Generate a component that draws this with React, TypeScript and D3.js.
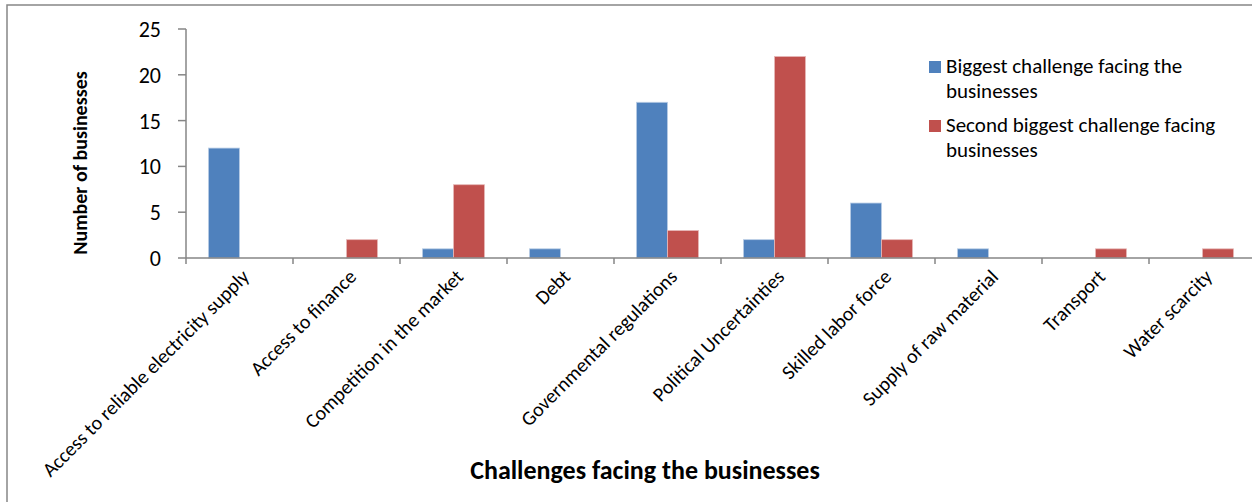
import React from "react";
import * as d3 from "d3";

const categories = [
  "Access to reliable electricity supply",
  "Access to finance",
  "Competition in the market",
  "Debt",
  "Governmental regulations",
  "Political Uncertainties",
  "Skilled labor force",
  "Supply of raw material",
  "Transport",
  "Water scarcity",
];
const biggest = [12, 0, 1, 1, 17, 2, 6, 1, 0, 0];
const secondBiggest = [0, 2, 8, 0, 3, 22, 2, 0, 1, 1];
const yTicks = [0, 5, 10, 15, 20, 25];
const seriesNames = [
  ["Biggest challenge facing the", "businesses"],
  ["Second biggest challenge facing", "businesses"],
];
const colors = ["#4F81BD", "#C0504D"];
const strokes = ["#B9CDE5", "#E6B9B8"];

const W = 1252;
const H = 502;
const FONT = "Carlito, Calibri, Lato, sans-serif";

export default function App() {
  const x = d3.scaleBand<string>().domain(categories).range([186, 1256]).padding(0);
  const y = d3.scaleLinear().domain([0, 25]).range([258, 29]);
  const step = x.step();
  const bw = step * 0.29;
  const axisColor = "#868686";

  return (
    <div style={{ position: "absolute", left: 0, top: 0, width: W, height: H, overflow: "hidden" }}>
      <svg width={W} height={H} style={{ display: "block", fontFamily: FONT }}>
        <rect x={0} y={0} width={W} height={H} fill="#fff" />
        <rect x={7} y={5} width={1300} height={540} fill="none" stroke={axisColor} strokeWidth={1.5} />

        {/* y axis */}
        <line x1={186} x2={186} y1={y(25)} y2={y(0)} stroke={axisColor} strokeWidth={1.5} />
        {yTicks.map((t) => (
          <g key={t}>
            <line x1={178} x2={186} y1={y(t)} y2={y(t)} stroke={axisColor} strokeWidth={1.5} />
            <text x={161} y={y(t)} dy="0.36em" textAnchor="end" fontSize={22} fill="#000">
              {t}
            </text>
          </g>
        ))}

        {/* bars */}
        {categories.map((c, i) => {
          const cx = (x(c) as number) + step / 2;
          return (
            <g key={c}>
              {[biggest[i], secondBiggest[i]].map((v, s) =>
                v > 0 ? (
                  <rect
                    key={s}
                    x={s === 0 ? cx - bw : cx}
                    y={y(v)}
                    width={bw}
                    height={y(0) - y(v)}
                    fill={colors[s]}
                    stroke={strokes[s]}
                    strokeWidth={0.8}
                  />
                ) : null
              )}
            </g>
          );
        })}

        {/* x axis */}
        <line x1={186} x2={1256} y1={y(0)} y2={y(0)} stroke={axisColor} strokeWidth={1.5} />
        {categories.map((c) => (
          <line
            key={"t" + c}
            x1={x(c) as number}
            x2={x(c) as number}
            y1={y(0)}
            y2={y(0) + 6}
            stroke={axisColor}
            strokeWidth={1.5}
          />
        ))}
        {categories.map((c) => {
          const cx = (x(c) as number) + step / 2 + 6;
          return (
            <text
              key={"l" + c}
              transform={`translate(${cx},${273}) rotate(-45)`}
              textAnchor="end"
              dy="0.35em"
              fontSize={20}
              fill="#000"
            >
              {c}
            </text>
          );
        })}

        {/* axis titles */}
        <text
          transform="translate(87,163) rotate(-90)"
          textAnchor="middle"
          fontSize={20}
          fontWeight="bold"
          fill="#000"
        >
          Number of businesses
        </text>
        <text x={645} y={479} textAnchor="middle" fontSize={26} fontWeight="bold" fill="#000">
          Challenges facing the businesses
        </text>

        {/* legend */}
        {seriesNames.map((lines, s) => (
          <g key={s} transform={`translate(929,${61 + s * 59})`}>
            <rect x={0} y={0} width={12} height={12} fill={colors[s]} />
            {lines.map((ln, j) => (
              <text key={j} x={17} y={12 + j * 25} fontSize={21} fill="#000">
                {ln}
              </text>
            ))}
          </g>
        ))}
      </svg>
    </div>
  );
}
